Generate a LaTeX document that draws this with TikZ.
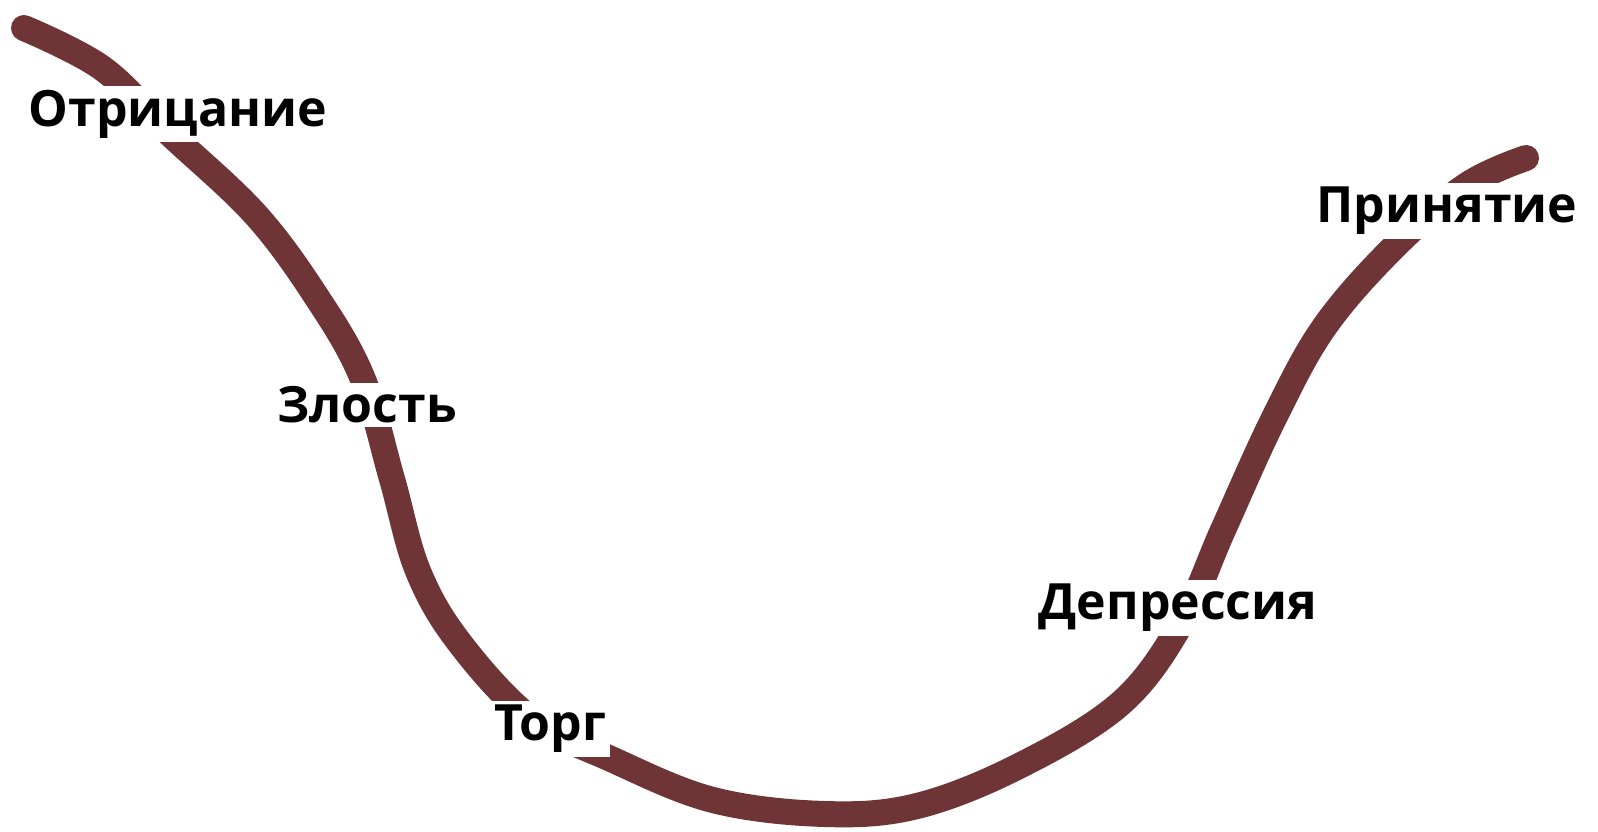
\documentclass[tikz,border=0pt]{standalone}
\usepackage{fontspec}
\setmainfont{Open Sans}
\definecolor{curvebrown}{RGB}{110,52,54}
\tikzset{
  stage/.style={fill=white, text=black, inner sep=4pt, font=\fontsize{50}{54}\selectfont\bfseries},
  curveline/.style={draw=curvebrown, line width=26pt, line cap=round, line join=round}
}
\begin{document}
\begin{tikzpicture}[x=1pt,y=-1pt]
\useasboundingbox[fill=white] (0,0) rectangle (1598,831);
\draw[curveline] plot[smooth, tension=0.6] coordinates {
 (24,28) (102,68) (168,132) (255,214) (316,296) (362,377) (392,479) (418,571) (459,642) (530,718)
 (611,759) (713,800) (825,814) (917,806) (1019,766) (1121,703) (1182,622) (1223,530) (1274,418)
 (1325,326) (1396,245) (1467,185) (1526,158)};
\node[stage] (otr) at (178,114) {Отрицание};
\node[stage] (zl) at (367,405) {Злость};
\node[stage] (torg) at (550,729) {Торг};
\node[stage] (dep) at (1178,608) {Депрессия};
\node[stage] (prin) at (1447,211) {Принятие};
\end{tikzpicture}
\end{document}
